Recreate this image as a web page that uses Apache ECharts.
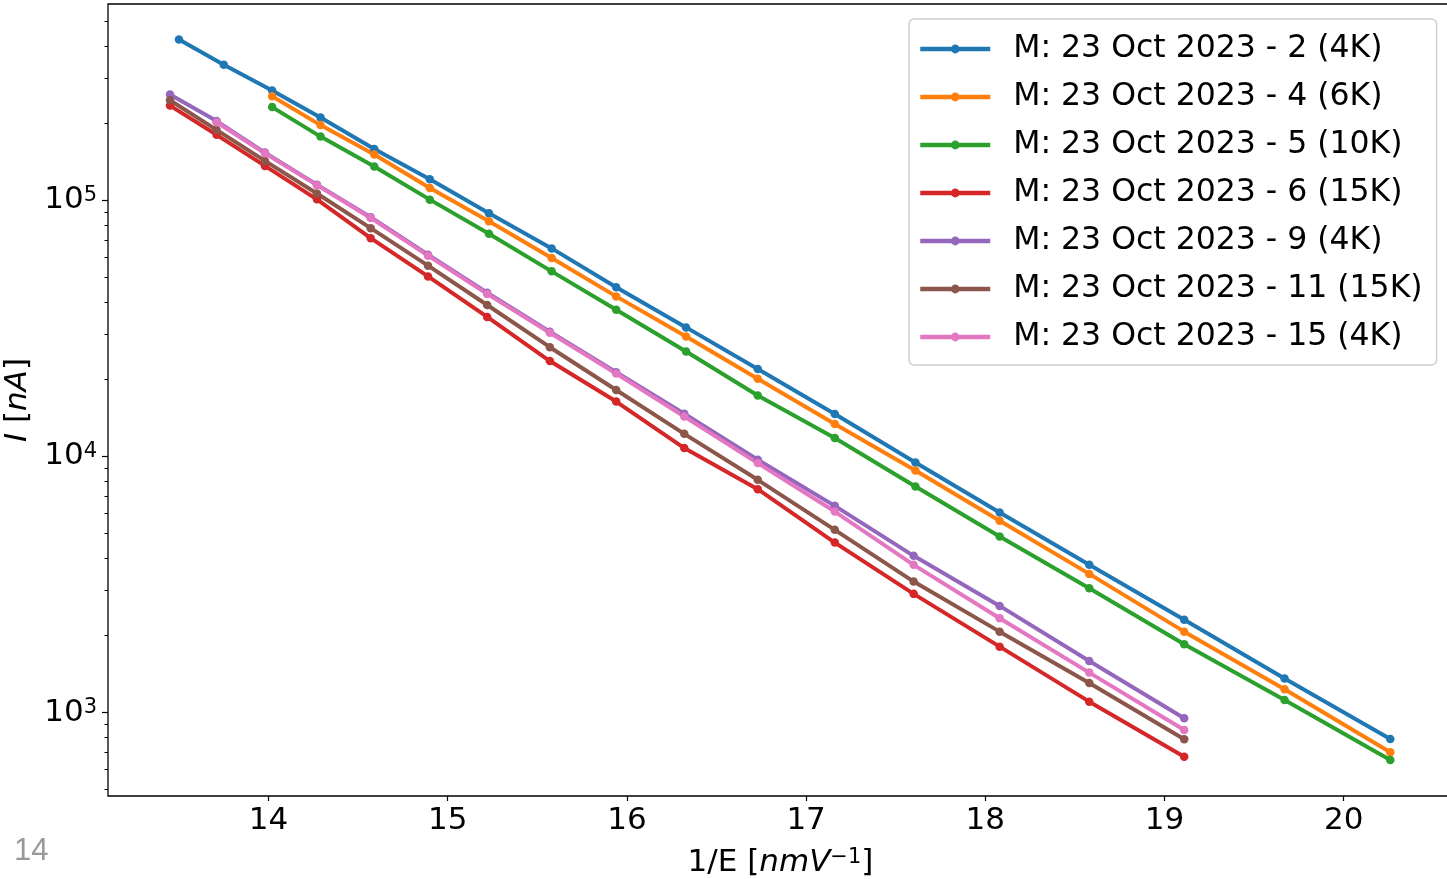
<!DOCTYPE html>
<html>
<head>
<meta charset="utf-8">
<script src="https://cdn.jsdelivr.net/npm/echarts@6/dist/echarts.min.js"></script>
<style>
  html, body { margin: 0; padding: 0; background: #fff; }
  #chart { width: 1447px; height: 879px; }
</style>
</head>
<body>
<div id="chart"></div>
<script>
// 1/E values (nm/V)
var xUpper = [13.50, 13.75, 14.02, 14.29, 14.59, 14.90, 15.23, 15.58, 15.94, 16.33, 16.73, 17.16, 17.61, 18.08, 18.58, 19.11, 19.67, 20.26];
var xLower = [13.45, 13.71, 13.98, 14.27, 14.57, 14.89, 15.22, 15.57, 15.94, 16.32, 16.73, 17.16, 17.60, 18.08, 18.58, 19.11];

// current I (nA)
var iRun2 = [423600, 338000, 267800, 210000, 158500, 120600, 88800, 64800, 45700, 31860, 21900, 14620, 9460, 6030, 3770, 2300, 1358, 788];
var iRun4 = [254400, 196300, 150600, 111600, 82650, 59450, 42100, 29380, 20080, 13360, 8800, 5600, 3475, 2068, 1232, 699];
var iRun5 = [230800, 177000, 135400, 100450, 73970, 52720, 37350, 25670, 17280, 11780, 7620, 4862, 3057, 1847, 1119, 652];
var iRun6 = [233900, 179900, 136000, 100700, 71040, 50390, 35000, 23540, 16360, 10770, 7445, 4606, 2904, 1807, 1102, 672];
var iRun9 = [258300, 203500, 153300, 114950, 85820, 61250, 43510, 30640, 21290, 14660, 9690, 6406, 4087, 2606, 1589, 949];
var iRun11 = [245300, 188000, 142300, 106200, 77730, 55480, 38960, 26660, 18140, 12240, 8095, 5163, 3243, 2068, 1304, 786];
var iRun15 = [201300, 152300, 114440, 85220, 60700, 43050, 30370, 21060, 14300, 9406, 6086, 3769, 2333, 1431, 854];

var names = [
  'M: 23 Oct 2023 - 2 (4K)',
  'M: 23 Oct 2023 - 4 (6K)',
  'M: 23 Oct 2023 - 5 (10K)',
  'M: 23 Oct 2023 - 6 (15K)',
  'M: 23 Oct 2023 - 9 (4K)',
  'M: 23 Oct 2023 - 11 (15K)',
  'M: 23 Oct 2023 - 15 (4K)'
];
var colors = ['#1f77b4', '#ff7f0e', '#2ca02c', '#d62728', '#9467bd', '#8c564b', '#e377c2'];

var xTicks = [14, 15, 16, 17, 18, 19, 20];
var yMajor = [1000, 10000, 100000];
var yMinor = [500, 600, 700, 800, 900, 2000, 3000, 4000, 5000, 6000, 7000, 8000, 9000,
  20000, 30000, 40000, 50000, 60000, 70000, 80000, 90000, 200000, 300000, 400000, 500000];

function pairs(xs, ys, start) {
  return ys.map(function (y, i) { return [xs[start + i], y]; });
}

var runs = [
  pairs(xUpper, iRun2, 0),
  pairs(xUpper, iRun4, 2),
  pairs(xUpper, iRun5, 2),
  pairs(xLower, iRun6, 0),
  pairs(xLower, iRun9, 0),
  pairs(xLower, iRun11, 0),
  pairs(xLower, iRun15, 1)
];

var font = 'DejaVu Sans';
var chart = echarts.init(document.getElementById('chart'));

var option = {
  animation: false,
  backgroundColor: '#fff',
  color: colors,
  textStyle: { fontFamily: font, color: '#000' },
  grid: {
    left: 108, top: 4, right: -6, bottom: 83,
    show: true, borderColor: '#000', borderWidth: 1.3,
    outerBoundsMode: 'none'
  },
  legend: {
    orient: 'vertical',
    left: 909, top: 19,
    backgroundColor: '#fff',
    borderColor: '#d0d0d0', borderWidth: 1.5, borderRadius: 5,
    padding: [13, 14, 11, 9],
    itemWidth: 70, itemHeight: 11, itemGap: 14,
    lineStyle: { width: 4.5 },
    textStyle: { fontSize: 31.5, lineHeight: 34, color: '#000', fontFamily: font, padding: [0, 0, 0, 18] },
    data: names
  },
  xAxis: {
    type: 'value',
    min: 13.104, max: 20.61,
    name: '1/E [{it|nmV}{sup|−1}]',
    nameLocation: 'middle',
    nameGap: 51,
    nameTextStyle: {
      fontSize: 31, lineHeight: 31, color: '#000', fontFamily: font,
      rich: {
        it: { fontSize: 31, fontStyle: 'italic', fontFamily: font, color: '#000' },
        sup: { fontSize: 21, lineHeight: 19, verticalAlign: 'top', fontFamily: font, color: '#000' }
      }
    },
    axisLine: { show: false },
    axisTick: { show: true, customValues: xTicks, length: 5, lineStyle: { color: '#000', width: 1.2 } },
    axisLabel: { customValues: xTicks, fontSize: 31, color: '#000', fontFamily: font, margin: 9 },
    splitLine: { show: false }
  },
  yAxis: [{
    type: 'log',
    min: 472, max: 583000,
    name: '{it|I} [{it|nA}]',
    nameLocation: 'middle',
    nameRotate: 90,
    nameGap: 70,
    nameTextStyle: {
      fontSize: 31, color: '#000', fontFamily: font,
      rich: { it: { fontSize: 31, fontStyle: 'italic', fontFamily: font, color: '#000' } }
    },
    axisLine: { show: false },
    axisTick: { show: true, customValues: yMajor, length: 6, lineStyle: { color: '#000', width: 1.2 } },
    axisLabel: {
      customValues: yMajor,
      fontSize: 31, lineHeight: 31, color: '#000', fontFamily: font, margin: 11,
      formatter: function (v) { return '10{sup|' + Math.round(Math.log10(v)) + '}'; },
      rich: { sup: { fontSize: 21, lineHeight: 19, verticalAlign: 'top', fontFamily: font, color: '#000' } }
    },
    splitLine: { show: false }
  }, {
    type: 'log',
    min: 472, max: 583000,
    position: 'left',
    axisLine: { show: false },
    axisTick: { show: true, customValues: yMinor, length: 3.5, lineStyle: { color: '#000', width: 1 } },
    axisLabel: { show: false },
    splitLine: { show: false }
  }],
  graphic: [{
    type: 'text', left: 14, top: 836,
    style: { text: '14', fontSize: 31, fill: '#999', fontFamily: 'Liberation Sans' }
  }],
  series: runs.map(function (d, k) {
    return {
      name: names[k],
      type: 'line',
      yAxisIndex: 0,
      data: d,
      symbol: 'circle',
      symbolSize: 8.5,
      showSymbol: true,
      lineStyle: { width: 4, color: colors[k] },
      itemStyle: { color: colors[k] },
      emphasis: { disabled: true }
    };
  })
};

chart.setOption(option);
</script>
</body>
</html>
